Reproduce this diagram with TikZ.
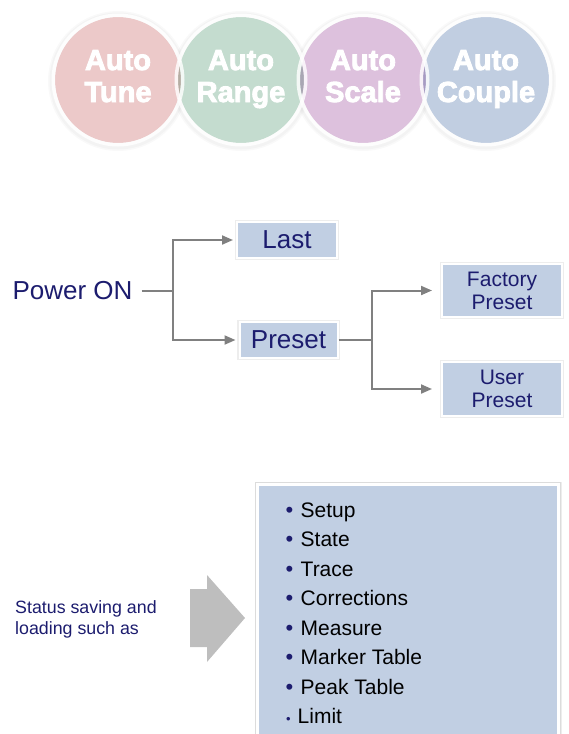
\documentclass[tikz,border=0pt]{standalone}
\usepackage{fontspec}
\setmainfont{Liberation Sans}
\newfontfamily\circlefont{Liberation Sans}[BoldFeatures={FakeBold=3}]
\usetikzlibrary{arrows.meta}

\definecolor{navy}{RGB}{28,28,110}
\definecolor{boxblue}{RGB}{193,207,227}
\definecolor{linegray}{RGB}{128,128,128}
\definecolor{arrowgray}{RGB}{190,190,190}
\definecolor{tunepink}{RGB}{236,201,201}
\definecolor{rangegreen}{RGB}{196,220,207}
\definecolor{scalepurple}{RGB}{221,193,221}
\definecolor{coupleblue}{RGB}{193,206,225}

\newcommand\fsz[2]{\fontsize{#1}{#2}\selectfont}

\begin{document}
\begin{tikzpicture}[x=1pt, y=-1pt,
  menubox/.style={fill=boxblue, draw=white, line width=2pt, inner sep=0pt, text=navy,
    preaction={draw=black, draw opacity=0.07, line width=4.5pt}},
  link/.style={draw=linegray, line width=2pt},
  linkarrow/.style={link, -{Triangle[length=11pt,width=9pt]}},
  circletext/.style={text=white, font=\fsz{29}{29}\circlefont\bfseries, inner sep=0pt, anchor=base},
  listitem/.style={font=\fsz{21}{21}, inner sep=0pt, anchor=base west},
  bulletmark/.style={text=navy, font=\fsz{22}{22}, inner sep=0pt, anchor=base west},
  ring/.style={white, line width=3.5pt, draw opacity=0.8},
]
\useasboundingbox (0,0) rectangle (569,734);
\clip (0,0) rectangle (569,734);

% soft halo under the four circles
\foreach \cx in {118,241,363,486} {
  \fill[black, opacity=0.025] (\cx,81) circle (70);
  \fill[black, opacity=0.025] (\cx,81) circle (68.5);
}

% overlapping feature circles
\begin{scope}[blend group=multiply]
  \node[circle, fill=tunepink,    minimum size=126pt, inner sep=0pt] (tune)   at (118,80) {};
  \node[circle, fill=rangegreen,  minimum size=126pt, inner sep=0pt] (range)  at (241,80) {};
  \node[circle, fill=scalepurple, minimum size=126pt, inner sep=0pt] (scale)  at (363,80) {};
  \node[circle, fill=coupleblue,  minimum size=126pt, inner sep=0pt] (couple) at (486,80) {};
\end{scope}
\foreach \n in {tune,range,scale,couple}
  \draw[ring] (\n.center) circle (64.75);

\node[circletext] (tuneA)   at (118,70)  {Auto};
\node[circletext] (tuneB)   at (118,102) {Tune};
\node[circletext] (rangeA)  at (241,70)  {Auto};
\node[circletext] (rangeB)  at (241,102) {Range};
\node[circletext] (scaleA)  at (363,70)  {Auto};
\node[circletext] (scaleB)  at (363,102) {Scale};
\node[circletext] (coupleA) at (486,70)  {Auto};
\node[circletext] (coupleB) at (486,102) {Couple};

% power-on tree
\node[text=navy, font=\fsz{26}{26}, inner sep=0pt] (power) at (72.5,291) {Power ON};
\node[menubox, minimum width=100pt, minimum height=36pt, font=\fsz{26}{26}] (last)   at (287,240) {Last};
\node[menubox, minimum width=98pt,  minimum height=36pt, font=\fsz{26}{26}] (preset) at (288.5,340) {Preset};
\node[menubox, minimum width=120pt, minimum height=53pt, font=\fsz{21}{23}, align=center] (factory) at (502,290.5) {Factory\\Preset};
\node[menubox, minimum width=120pt, minimum height=54pt, font=\fsz{21}{23}, align=center] (user)    at (502,389) {User\\Preset};

\coordinate (fork1) at (173,291);
\coordinate (fork2) at (372,340);
\draw[link, shorten <=9pt] (power.east) -- (fork1);
\draw[linkarrow, shorten >=3pt] (fork1) |- (last.west);
\draw[linkarrow, shorten >=3pt] (fork1) |- (preset.west);
\draw[link] (preset.east) -- (fork2);
\draw[linkarrow, shorten >=9pt] (fork2) |- (factory.west);
\draw[linkarrow, shorten >=9pt] (fork2) |- (user.west);

% saved-state list
\node[text=navy, font=\fsz{17.8}{21.7}, align=left, inner sep=0pt, anchor=west] (status) at (15,619.5)
  {Status saving and\\loading such as};
\fill[arrowgray] (190,589) -- (207,589) -- (207,575) -- (245,618) -- (207,662) -- (207,647) -- (190,647) -- cycle;
\node[menubox, line width=3pt, minimum width=301pt, minimum height=280pt, anchor=north west,
  preaction={draw=black, draw opacity=0.07, line width=6pt}] (savelist) at (256,483) {};

\foreach \lbl [count=\i] in {Setup, State, Trace, Corrections, Measure, Marker Table, Peak Table} {
  \node[bulletmark] (b\i) at (285.5,{517+29.5*(\i-1)}) {•};
  \node[listitem]   (t\i) at (300.5,{517+29.5*(\i-1)}) {\lbl};
}
\node[bulletmark, font=\fsz{13}{13}] (b8) at (286,723.5) {•};
\node[listitem] (t8) at (297.5,723.5) {Limit};
\end{tikzpicture}
\end{document}
